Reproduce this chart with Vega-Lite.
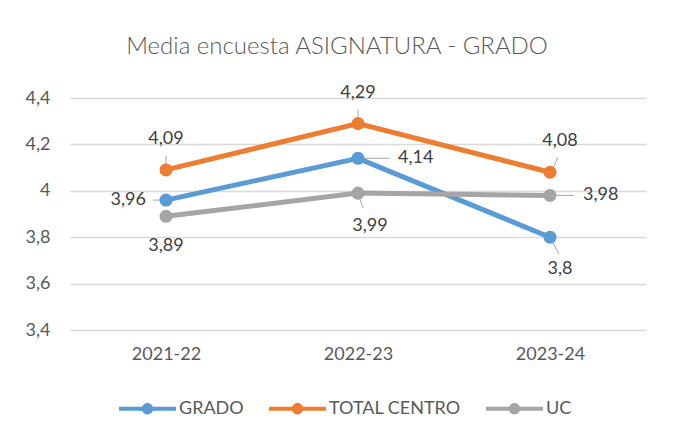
{
  "$schema": "https://vega.github.io/schema/vega-lite/v6.json",
  "width": 576,
  "height": 232,
  "autosize": "none",
  "padding": {"left": 70, "top": 98, "right": 27, "bottom": 110},
  "background": "white",
  "config": {
    "font": "Lato",
    "view": {"stroke": null},
    "locale": {"number": {"decimal": ",", "thousands": ".", "grouping": [3], "currency": ["", " €"]}}
  },
  "title": {
    "text": "Media encuesta ASIGNATURA - GRADO",
    "fontSize": 24,
    "font": "Lato",
    "fontWeight": 300,
    "color": "#595959",
    "offset": 25,
    "dx": -21,
    "anchor": "middle"
  },
  "data": {
    "values": [
      {"Year": "2021-22", "Series": "GRADO", "Value": 3.96},
      {"Year": "2022-23", "Series": "GRADO", "Value": 4.14},
      {"Year": "2023-24", "Series": "GRADO", "Value": 3.8},
      {"Year": "2021-22", "Series": "TOTAL CENTRO", "Value": 4.09},
      {"Year": "2022-23", "Series": "TOTAL CENTRO", "Value": 4.29},
      {"Year": "2023-24", "Series": "TOTAL CENTRO", "Value": 4.08},
      {"Year": "2021-22", "Series": "UC", "Value": 3.89},
      {"Year": "2022-23", "Series": "UC", "Value": 3.99},
      {"Year": "2023-24", "Series": "UC", "Value": 3.98}
    ]
  },
  "encoding": {
    "x": {
      "field": "Year", "type": "nominal", "title": null,
      "scale": {"type": "point", "padding": 0.5},
      "axis": {"labelAngle": 0, "domain": false, "ticks": false, "labelFontSize": 18, "labelColor": "#595959", "labelPadding": 15, "labelFont": "Lato"}
    },
    "y": {
      "field": "Value", "type": "quantitative", "title": null,
      "scale": {"domain": [3.4, 4.4], "zero": false, "nice": false},
      "axis": {"values": [3.4, 3.6, 3.8, 4, 4.2, 4.4], "labelExpr": "replace(format(datum.value, '~g'), '.', ',')", "domain": false, "ticks": false, "gridColor": "#d9d9d9", "gridWidth": 1.3, "labelFontSize": 18, "labelColor": "#595959", "labelPadding": 20, "labelFont": "Lato"}
    },
    "color": {
      "field": "Series", "type": "nominal", "title": null,
      "scale": {"domain": ["GRADO", "TOTAL CENTRO", "UC"], "range": ["#5B9BD5", "#ED7D31", "#A5A5A5"]},
      "legend": {
        "orient": "none", "direction": "horizontal", "legendX": 49, "legendY": 282,
        "symbolType": "M-1,-0.07 L1,-0.07 L1,0.07 L-1,0.07 Z M0.2,0 A0.2,0.2 0 1,1 -0.2,0 A0.2,0.2 0 1,1 0.2,0 Z",
        "symbolSize": 3249, "symbolStrokeWidth": 0, "symbolOpacity": 1,
        "labelFontSize": 18, "labelColor": "#595959", "labelFont": "Lato", "labelOffset": 3, "columnPadding": 25, "padding": 0
      }
    }
  },
  "layer": [
    {
      "transform": [{"filter": "(datum.Series == 'TOTAL CENTRO' && datum.Year != '2023-24')"}],
      "mark": {"type": "rule", "strokeWidth": 1, "yOffset": -14, "y2Offset": 0},
      "encoding": {"x2": {"field": "Year"}, "y2": {"field": "Value"}, "color": {"value": "#a6a6a6"}}
    },
    {
      "transform": [{"filter": "datum.Series == 'TOTAL CENTRO' && datum.Year == '2023-24'"}],
      "mark": {"type": "rule", "strokeWidth": 1, "xOffset": 8, "yOffset": -15, "x2Offset": 1, "y2Offset": 0},
      "encoding": {"x2": {"field": "Year"}, "y2": {"field": "Value"}, "color": {"value": "#a6a6a6"}}
    },
    {
      "transform": [{"filter": "datum.Series == 'GRADO' && datum.Year == '2021-22'"}],
      "mark": {"type": "rule", "strokeWidth": 1, "xOffset": -13, "x2Offset": 0},
      "encoding": {"x2": {"field": "Year"}, "y2": {"field": "Value"}, "color": {"value": "#a6a6a6"}}
    },
    {
      "transform": [{"filter": "datum.Series == 'GRADO' && datum.Year == '2022-23'"}],
      "mark": {"type": "rule", "strokeWidth": 1, "xOffset": 0, "x2Offset": 32},
      "encoding": {"x2": {"field": "Year"}, "y2": {"field": "Value"}, "color": {"value": "#a6a6a6"}}
    },
    {
      "transform": [{"filter": "datum.Series == 'GRADO' && datum.Year == '2023-24'"}],
      "mark": {"type": "rule", "strokeWidth": 1, "xOffset": 0, "yOffset": 0, "x2Offset": 9, "y2Offset": 17},
      "encoding": {"x2": {"field": "Year"}, "y2": {"field": "Value"}, "color": {"value": "#a6a6a6"}}
    },
    {
      "transform": [{"filter": "datum.Series == 'UC' && datum.Year == '2022-23'"}],
      "mark": {"type": "rule", "strokeWidth": 1, "xOffset": 0, "yOffset": 0, "x2Offset": 5, "y2Offset": 15},
      "encoding": {"x2": {"field": "Year"}, "y2": {"field": "Value"}, "color": {"value": "#a6a6a6"}}
    },
    {
      "transform": [{"filter": "datum.Series == 'UC' && datum.Year == '2023-24'"}],
      "mark": {"type": "rule", "strokeWidth": 1, "xOffset": 0, "x2Offset": 24},
      "encoding": {"x2": {"field": "Year"}, "y2": {"field": "Value"}, "color": {"value": "#a6a6a6"}}
    },
    {"mark": {"type": "line", "strokeWidth": 5, "strokeCap": "round", "point": {"filled": true, "size": 170, "opacity": 1}}},
    {
      "transform": [{"filter": "datum.Series == 'TOTAL CENTRO' && datum.Year != '2023-24'"}],
      "mark": {"type": "text", "dy": -31, "fontSize": 18, "font": "Lato"},
      "encoding": {"text": {"field": "Value", "type": "quantitative", "format": "~g"}, "color": {"value": "#404040"}}
    },
    {
      "transform": [{"filter": "datum.Series == 'TOTAL CENTRO' && datum.Year == '2023-24'"}],
      "mark": {"type": "text", "dy": -31, "dx": 10, "fontSize": 18, "font": "Lato"},
      "encoding": {"text": {"field": "Value", "type": "quantitative", "format": "~g"}, "color": {"value": "#404040"}}
    },
    {
      "transform": [{"filter": "datum.Series == 'GRADO' && datum.Year == '2021-22'"}],
      "mark": {"type": "text", "dx": -20, "align": "right", "fontSize": 18, "font": "Lato"},
      "encoding": {"text": {"field": "Value", "type": "quantitative", "format": "~g"}, "color": {"value": "#404040"}}
    },
    {
      "transform": [{"filter": "datum.Series == 'GRADO' && datum.Year == '2022-23'"}],
      "mark": {"type": "text", "dx": 40, "align": "left", "fontSize": 18, "font": "Lato"},
      "encoding": {"text": {"field": "Value", "type": "quantitative", "format": "~g"}, "color": {"value": "#404040"}}
    },
    {
      "transform": [{"filter": "datum.Series == 'GRADO' && datum.Year == '2023-24'"}],
      "mark": {"type": "text", "dy": 32, "dx": 10, "fontSize": 18, "font": "Lato"},
      "encoding": {"text": {"field": "Value", "type": "quantitative", "format": "~g"}, "color": {"value": "#404040"}}
    },
    {
      "transform": [{"filter": "datum.Series == 'UC' && datum.Year == '2021-22'"}],
      "mark": {"type": "text", "dy": 30, "fontSize": 18, "font": "Lato"},
      "encoding": {"text": {"field": "Value", "type": "quantitative", "format": "~g"}, "color": {"value": "#404040"}}
    },
    {
      "transform": [{"filter": "datum.Series == 'UC' && datum.Year == '2022-23'"}],
      "mark": {"type": "text", "dy": 33, "dx": 12, "fontSize": 18, "font": "Lato"},
      "encoding": {"text": {"field": "Value", "type": "quantitative", "format": "~g"}, "color": {"value": "#404040"}}
    },
    {
      "transform": [{"filter": "datum.Series == 'UC' && datum.Year == '2023-24'"}],
      "mark": {"type": "text", "dx": 33, "align": "left", "fontSize": 18, "font": "Lato"},
      "encoding": {"text": {"field": "Value", "type": "quantitative", "format": "~g"}, "color": {"value": "#404040"}}
    }
  ]
}
